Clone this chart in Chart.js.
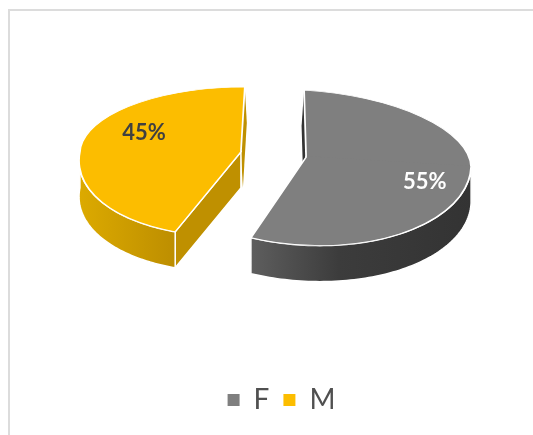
<!DOCTYPE html>
<html>
<head>
<meta charset="utf-8">
<style>
  html, body { margin: 0; padding: 0; background: #fff; }
  #wrap { position: relative; width: 533px; height: 435px; overflow: hidden; }
  #frame { position: absolute; left: 8px; top: 9px; width: 600px; height: 600px; border: 2px solid #dcdcdc; box-sizing: border-box; }
  #pie { position: absolute; left: 0; top: 0; }
</style>
<script src="https://cdn.jsdelivr.net/npm/chart.js@4"></script>
</head>
<body>
<div id="wrap">
  <div id="frame"></div>
  <canvas id="pie" width="533" height="435"></canvas>
</div>
<script>
// Data
const categories = ['F', 'M'];
const shares = [55, 45];
const topColors = ['#7f7f7f', '#fcbd00'];
const labelColors = ['#ffffff', '#404040'];

// Look of the tilted pie, one entry per slice. rx / ryTop / ryBottom are in screen px,
// skew values bend each half so the perspective of the original is roughly kept.
const PIE_X = 273.5, PIE_Y = 154.5, EXPLODE = 33, DEPTH = 36;
const sliceShape = [
  { rx: 165, ryTop: 67, ryBottom: 88, skewTop: 0.03, skewBottom: -0.05, lean: 0.06 },
  { rx: 161, ryTop: 65, ryBottom: 84, skewTop: -0.06, skewBottom: -0.2, lean: 0 }
];
const labelNudge = [[5, 8], [14, -12]];
const rimStops = [
  [[0, '#5e5e5e'], [0.4, '#3c3c3c'], [1, '#333333']],
  [[0, '#dcaa00'], [1, '#bd8e00']]
];
const wallColors = ['#333333', '#bf9000'];
const backWallShift = [-2.5, 2]; // the thin inner faces seen beside each slice's top edge

// matrix of one half of a slice: chart px around the apex -> screen px
function halfMatrix(arc, i, lower) {
  const s = sliceShape[i];
  const kx = s.rx / arc.outerRadius;
  const ky = (lower ? s.ryBottom : s.ryTop) / arc.outerRadius;
  const skew = lower ? s.skewBottom : s.skewTop;
  const mid = (arc.startAngle + arc.endAngle) / 2;
  const ax = PIE_X + Math.cos(mid) * EXPLODE;
  const ay = PIE_Y + Math.sin(mid) * EXPLODE * 0.5;
  return { a: kx, b: s.lean * kx, c: skew * ky, d: ky, ax, ay };
}

// screen position of a point at some angle / radius fraction on a slice
function project(arc, i, angle, frac) {
  const lx = Math.cos(angle) * arc.outerRadius * frac;
  const ly = Math.sin(angle) * arc.outerRadius * frac;
  const m = halfMatrix(arc, i, ly > 0);
  return { x: m.ax + m.a * lx + m.c * ly, y: m.ay + m.b * lx + m.d * ly };
}

function drawWall(ctx, arc, i, angle, shift, outlined) {
  const apex = project(arc, i, angle, 0);
  const edge = project(arc, i, angle, 1);
  ctx.beginPath();
  ctx.moveTo(apex.x, apex.y);
  ctx.lineTo(edge.x, edge.y);
  ctx.lineTo(edge.x + shift, edge.y + DEPTH);
  ctx.lineTo(apex.x + shift, apex.y + DEPTH);
  ctx.closePath();
  ctx.fillStyle = wallColors[i];
  ctx.fill();
  if (outlined) {
    ctx.strokeStyle = '#ffffff';
    ctx.lineWidth = 1.5;
    ctx.stroke();
  }
}

function drawRim(ctx, arc, i) {
  const from = Math.max(arc.startAngle, 0);
  const to = Math.min(arc.endAngle, Math.PI);
  if (to <= from) return;
  const pts = [];
  for (let n = 0; n <= 80; n++) {
    pts.push(project(arc, i, from + (to - from) * n / 80, 1));
  }
  const xs = pts.map(p => p.x);
  const left = Math.min(...xs), right = Math.max(...xs);
  const grad = ctx.createLinearGradient(left, 0, right, 0);
  rimStops[i].forEach(st => grad.addColorStop(st[0], st[1]));
  ctx.beginPath();
  pts.forEach((p, n) => n ? ctx.lineTo(p.x, p.y) : ctx.moveTo(p.x, p.y));
  pts.slice().reverse().forEach(p => ctx.lineTo(p.x, p.y + DEPTH));
  ctx.closePath();
  ctx.fillStyle = grad;
  ctx.fill();
  ctx.strokeStyle = '#ffffff';
  ctx.lineWidth = 1.5;
  ctx.stroke();
}

// the library's arc is drawn twice, once per half, each clipped to its side of the apex
function drawTop(ctx, arc, i) {
  [false, true].forEach(lower => {
    const m = halfMatrix(arc, i, lower);
    const big = arc.outerRadius * 2;
    ctx.save();
    ctx.transform(m.a, m.b, m.c, m.d, m.ax, m.ay);
    ctx.beginPath();
    // lower half overlaps a little so no seam shows between the two
    ctx.rect(-big, lower ? -2 : -big, big * 2, big + (lower ? 2 : 0));
    ctx.clip();
    ctx.translate(-arc.x, -arc.y);
    arc.draw(ctx);
    ctx.restore();
  });
}

const tiltedPie = {
  id: 'tiltedPie',
  beforeDatasetsDraw(chart) {
    const ctx = chart.ctx;
    const arcs = chart.getDatasetMeta(0).data;
    arcs.forEach((arc, i) => {
      ctx.save();
      // back walls first, so only their slivers stay visible
      drawWall(ctx, arc, i, i === 0 ? arc.startAngle : arc.endAngle, backWallShift[i], false);
      if (i === 1) drawWall(ctx, arc, i, arc.startAngle, 0, true);
      drawRim(ctx, arc, i);
      drawTop(ctx, arc, i);
      ctx.restore();
    });
    ctx.font = 'bold 22px Lato';
    ctx.textAlign = 'center';
    ctx.textBaseline = 'middle';
    arcs.forEach((arc, i) => {
      const p = project(arc, i, (arc.startAngle + arc.endAngle) / 2, 0.7);
      ctx.fillStyle = labelColors[i];
      ctx.fillText(shares[i] + '%', p.x + labelNudge[i][0], p.y + labelNudge[i][1]);
    });
    return false;
  }
};

new Chart(document.getElementById('pie').getContext('2d'), {
  type: 'pie',
  data: {
    labels: categories,
    datasets: [{
      data: shares,
      backgroundColor: topColors,
      borderColor: '#ffffff',
      borderWidth: 2
    }]
  },
  options: {
    responsive: false,
    animation: false,
    layout: { padding: { bottom: 11, left: 30 } },
    plugins: {
      tooltip: { enabled: false },
      legend: {
        position: 'bottom',
        labels: {
          boxWidth: 12,
          boxHeight: 12,
          padding: 14,
          color: '#505050',
          font: { family: 'Lato', size: 28 },
          generateLabels(chart) {
            return Chart.overrides.pie.plugins.legend.labels.generateLabels(chart)
              .map(item => ({ ...item, lineWidth: 0 }));
          }
        }
      }
    }
  },
  plugins: [tiltedPie]
});
</script>
</body>
</html>
